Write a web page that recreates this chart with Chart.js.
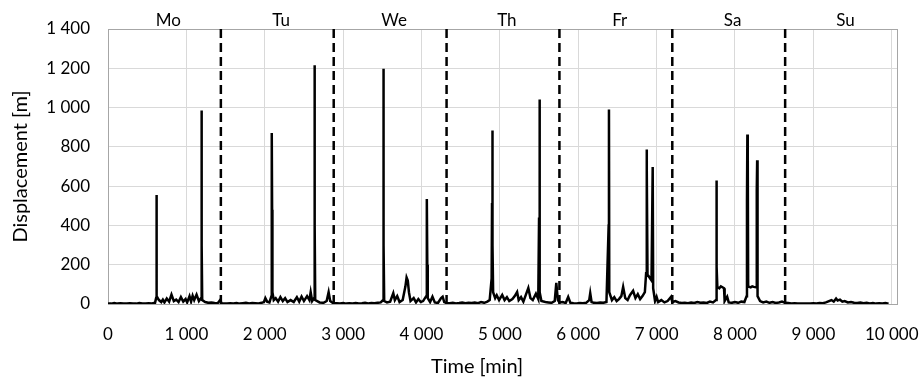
<!DOCTYPE html>
<html>
<head>
<meta charset="utf-8">
<script src="https://cdn.jsdelivr.net/npm/chart.js@4"></script>
<style>
  html, body { margin: 0; padding: 0; background: #fff; }
  canvas { display: block; }
</style>
</head>
<body>
<canvas id="c" width="922" height="380"></canvas>
<script>
// ---- data (minutes, displacement in m) ----
const monData = [[0,3],[40,2],[80,5],[120,2],[160,4],[200,3],[240,2],[280,4],[320,3],[360,2],[400,5],[440,3],[480,2],[520,4],[560,3],[600,6],[614,30],[617,555],[620,410],[624,40],[650,20],[680,10],[700,22],[720,8],[750,28],[780,12],[810,48],[840,15],[870,22],[900,10],[930,35],[960,12],[990,25],[1010,8],[1040,40],[1060,12],[1080,42],[1100,20],[1130,48],[1160,15],[1188,30],[1192,620],[1195,985],[1198,300],[1202,20],[1240,10],[1280,6],[1320,8],[1360,5],[1400,4],[1430,20]];
const tueData = [[1450,4],[1480,3],[1520,2],[1560,4],[1600,3],[1640,5],[1680,2],[1720,4],[1760,6],[1800,3],[1840,5],[1880,4],[1920,3],[1960,6],[1990,10],[2008,30],[2030,12],[2060,8],[2085,40],[2088,500],[2091,870],[2094,480],[2098,60],[2115,20],[2140,30],[2170,12],[2200,35],[2230,15],[2260,30],[2290,10],[2330,20],[2370,10],[2410,35],[2440,12],[2470,38],[2500,15],[2540,40],[2570,20],[2586,60],[2605,15],[2630,30],[2634,300],[2637,1216],[2640,400],[2644,20],[2700,8],[2750,6],[2790,15],[2815,60],[2835,15],[2870,5]];
const wedData = [[2920,4],[2960,3],[3000,5],[3040,2],[3080,4],[3120,3],[3160,5],[3200,3],[3240,4],[3280,6],[3320,3],[3360,5],[3400,4],[3440,6],[3480,8],[3510,20],[3514,1198],[3518,300],[3524,15],[3560,8],[3600,12],[3640,55],[3660,20],[3690,40],[3720,10],[3760,20],[3795,90],[3810,135],[3825,120],[3840,60],[3860,15],[3900,30],[3930,8],[3960,25],[3990,10],[4020,15],[4060,40],[4066,500],[4070,534],[4074,200],[4080,30],[4110,10],[4140,37],[4170,8],[4210,5],[4250,30],[4270,37],[4290,10]];
const thuData = [[4320,5],[4360,4],[4400,6],[4440,3],[4480,5],[4520,8],[4560,4],[4600,6],[4640,5],[4680,8],[4720,4],[4760,10],[4800,6],[4840,12],[4870,20],[4895,130],[4900,514],[4904,883],[4908,300],[4914,60],[4940,30],[4960,45],[4990,20],[5030,46],[5060,20],[5090,35],[5120,15],[5160,25],[5190,40],[5220,61],[5240,20],[5270,35],[5300,12],[5330,45],[5363,81],[5390,30],[5420,20],[5460,52],[5490,25],[5500,440],[5504,700],[5508,1041],[5512,60],[5530,15],[5580,10],[5620,8],[5660,6],[5700,15],[5720,107],[5740,20]];
const friData = [[5760,8],[5800,10],[5840,5],[5872,36],[5900,6],[5940,4],[5980,3],[6020,5],[6060,4],[6100,6],[6140,20],[6153,55],[6170,10],[6200,6],[6240,5],[6280,8],[6320,6],[6360,10],[6388,400],[6392,990],[6396,60],[6430,20],[6460,35],[6490,15],[6520,25],[6550,40],[6573,87],[6600,30],[6630,20],[6660,45],[6700,67],[6730,30],[6760,50],[6790,25],[6820,40],[6850,60],[6866,156],[6872,786],[6877,680],[6884,150],[6935,120],[6950,697],[6956,80],[6980,15],[7000,36],[7020,10],[7060,20],[7100,8],[7140,15],[7185,37]];
const satData = [[7200,10],[7240,15],[7280,8],[7320,5],[7360,6],[7400,4],[7440,8],[7480,5],[7520,10],[7560,6],[7600,8],[7640,5],[7680,12],[7720,8],[7758,20],[7763,629],[7768,190],[7775,87],[7800,80],[7820,90],[7840,85],[7860,80],[7868,15],[7900,37],[7920,8],[7960,6],[8000,10],[8040,6],[8080,12],[8120,10],[8148,40],[8153,530],[8158,863],[8163,753],[8168,90],[8200,85],[8220,90],[8240,87],[8270,85],[8278,580],[8283,732],[8288,40],[8320,15],[8360,8],[8400,12],[8440,6],[8480,10],[8520,5],[8560,8],[8600,12]];
const sunData = [[8640,6],[8680,5],[8720,3],[8760,4],[8800,2],[8840,3],[8880,2],[8920,3],[8960,2],[9000,4],[9040,3],[9080,5],[9120,4],[9160,8],[9200,15],[9230,20],[9260,12],[9290,28],[9310,18],[9340,22],[9370,12],[9400,15],[9440,8],[9480,10],[9520,6],[9560,5],[9600,8],[9640,4],[9680,6],[9720,3],[9760,5],[9800,2],[9840,4],[9880,3],[9920,5],[9960,2]];

const dayNames = ['Mo','Tu','We','Th','Fr','Sa','Su'];
const dayLabelPos = [770, 2210, 3650, 5090, 6530, 7970, 9410];
const dayBounds = [1440, 2880, 4320, 5760, 7200, 8640];
const xTickValues = [0,1000,2000,3000,4000,5000,6000,7000,8000,9000,10000];
const yTickValues = [0,200,400,600,800,1000,1200,1400];

// ---- build ----
const allPairs = [].concat(monData, tueData, wedData, thuData, friData, satData, sunData);
const mainPoints = allPairs.map(p => ({x: p[0], y: p[1]}));

const fmt = v => String(v).replace(/\B(?=(\d{3})+(?!\d))/g, ' ');

const datasets = [{
  data: mainPoints,
  borderColor: '#000',
  borderWidth: 2.5,
  pointRadius: 0,
  tension: 0,
  fill: false,
  order: 0
}];
dayBounds.forEach(b => {
  datasets.push({
    data: [{x: b, y: yTickValues[0]}, {x: b, y: yTickValues[yTickValues.length - 1]}],
    borderColor: '#000',
    borderWidth: 2.5,
    borderDash: [9, 5],
    pointRadius: 0,
    fill: false,
    order: 1
  });
});

Chart.defaults.font.family = 'Lato, "Open Sans", sans-serif';
Chart.defaults.color = '#000';

const framePlugin = {
  id: 'frame',
  beforeDatasetsDraw(chart) {
    const {ctx, chartArea: a} = chart;
    ctx.save();
    ctx.strokeStyle = '#a6a6a6';
    ctx.lineWidth = 1;
    ctx.strokeRect(Math.round(a.left) + 0.5, Math.round(a.top) + 0.5,
                   Math.round(a.right - a.left) - 1, Math.round(a.bottom - a.top));
    ctx.restore();
  }
};
const xTitlePlugin = {
  id: 'xTitle',
  afterDraw(chart) {
    const {ctx, chartArea: a} = chart;
    ctx.save();
    ctx.font = '20px Lato, "Open Sans", sans-serif';
    ctx.fillStyle = '#000';
    ctx.textAlign = 'center';
    ctx.textBaseline = 'middle';
    ctx.fillText('Time [min]', (a.left + a.right) / 2 - 26, a.bottom + 63);
    ctx.restore();
  }
};
const noEdgePad = s => { s.paddingLeft = 0; s.paddingRight = 0; };

new Chart(document.getElementById('c'), {
  type: 'line',
  data: { datasets },
  options: {
    responsive: false,
    animation: false,
    layout: { padding: { left: 0, right: 24, top: 0, bottom: 0 } },
    plugins: { legend: { display: false }, tooltip: { enabled: false } },
    elements: { point: { radius: 0 }, line: { tension: 0 } },
    scales: {
      x: {
        type: 'linear', position: 'bottom', min: 0, max: 10080,
        afterBuildTicks: s => { s.ticks = xTickValues.map(v => ({value: v})); },
        afterFit: s => { s.height = 76; noEdgePad(s); },
        grid: { color: '#d9d9d9', drawTicks: false },
        border: { display: false },
        ticks: { padding: 20, autoSkip: false, maxRotation: 0, callback: v => fmt(v), font: { size: 17 } }
      },
      xTop: {
        type: 'linear', position: 'top', min: 0, max: 10080,
        afterBuildTicks: s => { s.ticks = dayLabelPos.map(v => ({value: v})); },
        afterFit: s => { s.height = 29; noEdgePad(s); },
        grid: { display: false, drawTicks: false },
        border: { display: false },
        ticks: { padding: -2, autoSkip: false, maxRotation: 0, callback: (v, i) => dayNames[i], font: { size: 17 } }
      },
      y: {
        min: 0, max: 1400,
        afterBuildTicks: s => { s.ticks = yTickValues.map(v => ({value: v})); },
        afterFit: s => { s.width = 108; },
        grid: { color: '#d9d9d9', drawTicks: false },
        border: { display: false },
        ticks: { padding: 18, callback: v => fmt(v), font: { size: 17 } },
        title: { display: true, text: 'Displacement [m]', font: { size: 20 }, padding: { top: 9, bottom: 0 } }
      }
    }
  },
  plugins: [framePlugin, xTitlePlugin]
});
</script>
</body>
</html>
